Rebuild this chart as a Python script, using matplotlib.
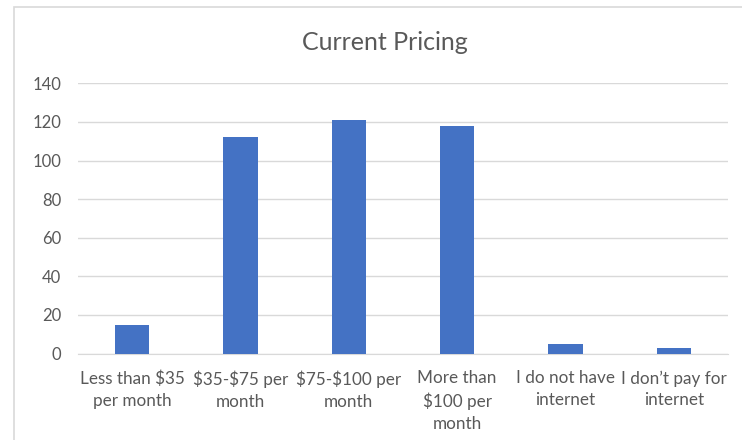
import matplotlib.pyplot as plt
from matplotlib.patches import Rectangle

categories = ["Less than \\$35\nper month", "\\$35-\\$75 per\nmonth", "\\$75-\\$100 per\nmonth",
              "More than\n\\$100 per\nmonth", "I do not have\ninternet", "I don\u2019t pay for\ninternet"]
counts = [15, 112, 121, 118, 5, 3]
y_ticks = [0, 20, 40, 60, 80, 100, 120, 140]

plt.rcParams['font.family'] = ['Lato', 'DejaVu Sans']
text_color = '#595959'

fig = plt.figure(figsize=(7.42, 4.4), dpi=100)
# chart area border (Excel style)
fig.patches.append(Rectangle((14 / 742, -0.05), 1.0, (440 - 7) / 440 + 0.05,
                             transform=fig.transFigure, fill=False,
                             edgecolor='#d9d9d9', linewidth=1.2))

ax = fig.add_axes([78 / 742, (440 - 353.5) / 440, (728 - 78) / 742, (353.5 - 83.3) / 440])
x = range(len(categories))
ax.bar(x, counts, width=0.314, color='#4472C4', zorder=3)
ax.set_xlim(-0.5, len(categories) - 0.5)
ax.set_ylim(0, 140)
ax.set_yticks(y_ticks)
ax.set_xticks(list(x))
ax.set_xticklabels(categories, fontsize=12.3, color=text_color, linespacing=1.45)
ax.tick_params(axis='y', labelsize=12, labelcolor=text_color, length=0, pad=12)
ax.tick_params(axis='x', length=0, pad=12)
ax.yaxis.grid(True, color='#d9d9d9', linewidth=1, zorder=0)
for s in ['top', 'right', 'left']:
    ax.spines[s].set_visible(False)
ax.spines['bottom'].set_color('#d9d9d9')
ax.set_facecolor('none')

fig.text(385 / 742, 1 - 43 / 440, "Current Pricing", ha='center', va='center',
         fontsize=18, color=text_color)

plt.savefig("out.png", dpi=100)
